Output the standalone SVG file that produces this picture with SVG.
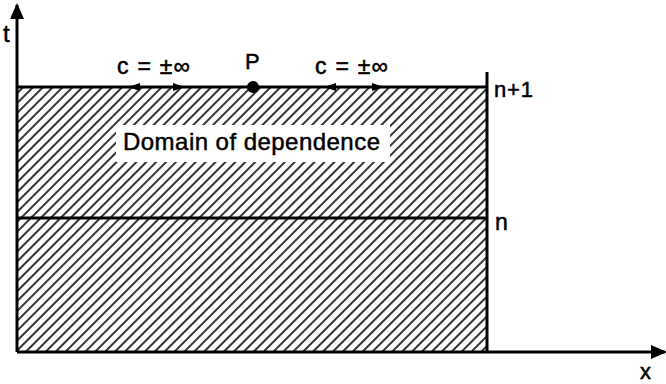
<svg xmlns="http://www.w3.org/2000/svg" width="666" height="384" viewBox="0 0 666 384">
<style>
text{font-family:"Liberation Sans",Arial,sans-serif;fill:#000;stroke:#000;stroke-width:0.5}
.ax{stroke:#000;stroke-width:3;fill:none}
.ln{stroke:#000;stroke-width:3;fill:none}
.sm{stroke:#000;stroke-width:2}
</style>
<defs>
<pattern id="hatch" patternUnits="userSpaceOnUse" width="7" height="8" patternTransform="rotate(45)">
<line x1="1" y1="0" x2="1" y2="8" stroke="#000" stroke-width="1.6"/>
</pattern>
<marker id="ah" markerWidth="16" markerHeight="14" refX="14" refY="7" orient="auto" markerUnits="userSpaceOnUse">
<path d="M0,0 L16,7 L0,14 Z" fill="#000"/>
</marker>
<marker id="sh" markerWidth="12" markerHeight="8" refX="10" refY="4" orient="auto" markerUnits="userSpaceOnUse">
<path d="M0,0 L12,4 L0,8 Z" fill="#000"/>
</marker>
</defs>
<g id="domain">
<rect x="17" y="87" width="470" height="265" fill="url(#hatch)"/>
<rect x="116" y="125" width="274" height="37" fill="#fff"/>
<text x="123" y="150" font-size="24" textLength="257" lengthAdjust="spacing">Domain of dependence</text>
</g>
<g id="connectors">
<line class="ax" x1="17" y1="352" x2="17" y2="5" marker-end="url(#ah)"/>
<line class="ax" x1="17" y1="352" x2="665" y2="352" marker-end="url(#ah)"/>
<line class="ln" x1="17" y1="87" x2="487" y2="87"/>
<line class="ln" x1="17" y1="218" x2="487" y2="218"/>
<line class="ax" x1="487" y1="72" x2="487" y2="353"/>
<line class="sm" x1="150" y1="87" x2="130" y2="87" marker-end="url(#sh)"/>
<line class="sm" x1="160" y1="87" x2="183" y2="87" marker-end="url(#sh)"/>
<line class="sm" x1="345" y1="87" x2="326" y2="87" marker-end="url(#sh)"/>
<line class="sm" x1="355" y1="87" x2="382" y2="87" marker-end="url(#sh)"/>
</g>
<g id="P">
<circle cx="253" cy="87" r="6" fill="#000"/>
<text x="245" y="69" font-size="22">P</text>
</g>
<g id="labels">
<text x="117" y="74" font-size="23" textLength="73" lengthAdjust="spacing">c = ±∞</text>
<text x="315" y="74" font-size="23" textLength="73" lengthAdjust="spacing">c = ±∞</text>
<text x="494" y="97" font-size="22" textLength="39" lengthAdjust="spacing">n+1</text>
<text x="495" y="230" font-size="23">n</text>
<text x="3" y="42" font-size="24">t</text>
<text x="640" y="379" font-size="22">x</text>
</g>
</svg>
